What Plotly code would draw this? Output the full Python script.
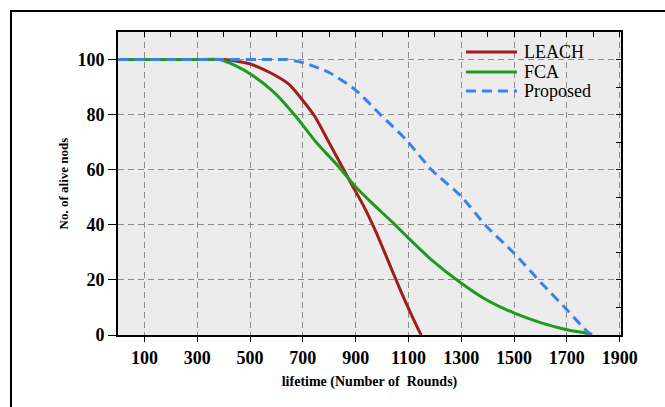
import plotly.graph_objects as go

leach_x = [0, 100, 200, 300, 400, 450, 497, 577, 649, 697, 745, 793, 834, 882, 931, 979, 1027, 1074, 1114, 1148]
leach_y = [100, 100, 100, 100, 100, 99.4, 98.5, 95.2, 90.9, 85.5, 79.4, 71, 63.7, 55.2, 46.7, 37, 26, 15.3, 6.8, 0]

fca_x = [0, 100, 200, 300, 384, 449, 513, 593, 673, 753, 834, 898, 962, 1042, 1106, 1186, 1299, 1395, 1499, 1603, 1700, 1780, 1790]
fca_y = [100, 100, 100, 100, 100, 97.6, 94, 87.9, 79.4, 69.7, 61.3, 54, 47.9, 40.7, 34.6, 27.4, 18.9, 12.8, 8, 4.4, 1.9, 0.5, 0]

prop_x = [0, 200, 400, 600, 641, 705, 801, 898, 994, 1091, 1187, 1299, 1395, 1499, 1603, 1700, 1764, 1788, 1820]
prop_y = [100, 100, 100, 100, 100, 98.8, 95.2, 89.1, 80, 70.9, 60, 50.4, 39.5, 29.8, 18.9, 9.2, 2.5, 0.5, 0]

series_names = ["LEACH", "FCA", "Proposed"]
series_colors = ["#a11d1d", "#1f9a1f", "#3b82e6"]
series_dash = ["solid", "solid", "10px,6px"]

x_ticks = [100, 300, 500, 700, 900, 1100, 1300, 1500, 1700, 1900]
y_ticks = [0, 20, 40, 60, 80, 100]

SERIF = "Liberation Serif"

fig = go.Figure()
for xs, ys, nm, col, dsh in zip([leach_x, fca_x, prop_x], [leach_y, fca_y, prop_y],
                                series_names, series_colors, series_dash):
    fig.add_trace(go.Scatter(x=xs, y=ys, mode="lines", name=nm, showlegend=False,
                             line=dict(color=col, width=3, dash=dsh, shape="spline", smoothing=0.6)))

grid = dict(showgrid=True, gridcolor="#8c8c8c", griddash="6px,4px", gridwidth=1)

fig.update_layout(
    width=665, height=407,
    margin=dict(l=118, r=44, t=32, b=72),
    paper_bgcolor="white",
    plot_bgcolor="#ececec",
    font=dict(family=SERIF, color="black"),
    showlegend=False,
    xaxis=dict(range=[0, 1905], tickvals=x_ticks, ticks="outside", ticklen=5, tickcolor="black",
               showline=True, linecolor="black", linewidth=2, zeroline=False,
               tickfont=dict(family=SERIF, size=18, color="black", weight="bold"),
               title=dict(text="<b>lifetime (Number of  Rounds)</b>", font=dict(family=SERIF, size=14), standoff=10),
               **grid),
    yaxis=dict(range=[0, 110], tickvals=y_ticks, ticks="outside", ticklen=8, tickcolor="black",
               showline=True, linecolor="black", linewidth=2, zeroline=False,
               tickfont=dict(family=SERIF, size=18, color="black", weight="bold"),
               title=dict(text="<b>No. of alive nods</b>", font=dict(family=SERIF, size=13), standoff=6),
               **grid),
    xaxis2=dict(overlaying="x", side="top", matches="x", range=[0, 1905], dtick=100, tick0=0,
                ticks="inside", ticklen=5, tickcolor="black", showticklabels=False, showgrid=False,
                showline=True, linecolor="black", linewidth=2, zeroline=False),
    yaxis2=dict(overlaying="y", side="right", matches="y", range=[0, 110], dtick=10, tick0=0,
                ticks="inside", ticklen=5, tickcolor="black", showticklabels=False, showgrid=False,
                showline=True, linecolor="black", linewidth=2, zeroline=False),
)

# invisible trace to activate mirrored axes
fig.add_trace(go.Scatter(x=[0], y=[0], xaxis="x2", yaxis="y2", mode="lines",
                         showlegend=False, hoverinfo="skip", line=dict(width=0)))

# manual legend
leg_y = [0.934, 0.868, 0.805]
for nm, col, dsh, ly in zip(series_names, series_colors, series_dash, leg_y):
    fig.add_shape(type="line", xref="paper", yref="paper", x0=0.6918, x1=0.7932, y0=ly, y1=ly,
                  line=dict(color=col, width=3, dash=dsh))
    fig.add_annotation(xref="paper", yref="paper", x=0.8032, y=ly, text=nm, showarrow=False,
                       xanchor="left", yanchor="middle", font=dict(family=SERIF, size=18, color="black"))

# outer frame
fig.add_shape(type="rect", xref="paper", yref="paper",
              x0=-0.2127, x1=1.2, y0=-0.3, y1=1.069,
              line=dict(color="black", width=2), fillcolor="rgba(0,0,0,0)", layer="above")

fig.write_html("out.html")
